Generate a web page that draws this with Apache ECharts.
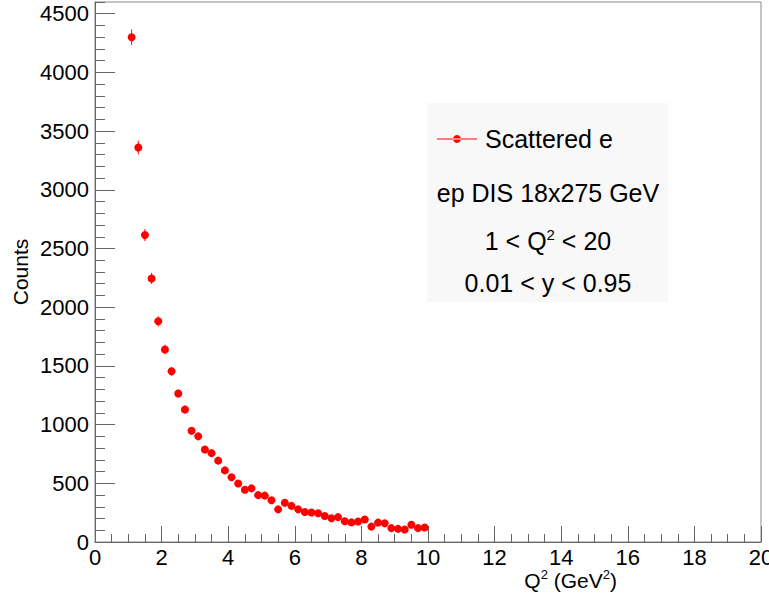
<!DOCTYPE html>
<html><head><meta charset="utf-8">
<script src="https://cdn.jsdelivr.net/npm/echarts@6/dist/echarts.min.js"></script>
<style>html,body{margin:0;padding:0;background:#fff}#c{width:769px;height:595px}</style>
</head><body><div id="c"></div>
<script>
// Bin centres of Q^2 (GeV^2), histogram bins of width 0.2
const binCenters = [1.1,1.3,1.5,1.7,1.9,2.1,2.3,2.5,2.7,2.9,
                    3.1,3.3,3.5,3.7,3.9,4.1,4.3,4.5,4.7,4.9,
                    5.1,5.3,5.5,5.7,5.9,6.1,6.3,6.5,6.7,6.9,
                    7.1,7.3,7.5,7.7,7.9,8.1,8.3,8.5,8.7,8.9,
                    9.1,9.3,9.5,9.7,9.9];
// Counts per bin
const counts = [4300,3360,2615,2245,1880,1640,1455,1265,1128,947,
                900,788,757,693,610,551,498,445,457,399,
                395,356,278,334,308,278,256,251,245,221,
                202,212,177,167,175,192,131,165,159,118,
                112,106,147,118,124];
const binHalfWidth = 0.1;
const seriesName = 'Scattered e';
const infoLines = ['ep DIS 18x275 GeV', '0.01 < y < 0.95'];
const xRange = [0, 20], xStep = 2;
const yRange = [0, 4600], yStep = 500, yMinorStep = 100;

const FONT = '"Liberation Sans", Arial, Helvetica, sans-serif';
const RED = '#ff0000';
const AX = '#666';

const chart = echarts.init(document.getElementById('c'), null, {renderer: 'svg'});
const pts = binCenters.map((x, i) => [x, counts[i]]);
const errs = binCenters.map((x, i) => [x, counts[i], Math.sqrt(counts[i])]);

chart.setOption({
  animation: false,
  backgroundColor: '#fff',
  grid: {left: 95, right: 8, top: 2, bottom: 53, outerBoundsMode: 'none', containLabel: false,
         show: true, borderColor: '#888', borderWidth: 1, backgroundColor: 'transparent'},
  xAxis: {
    type: 'value', min: xRange[0], max: xRange[1], interval: xStep,
    axisLine: {show: true, onZero: false, lineStyle: {color: AX, width: 1}},
    axisTick: {show: true, inside: true, length: 16, lineStyle: {color: AX}},
    minorTick: {show: true, splitNumber: 4, length: 8, lineStyle: {color: AX}},
    axisLabel: {fontSize: 22, color: '#000', fontFamily: FONT, margin: 4, showMaxLabel: true, hideOverlap: false,
                formatter: v => String(v)},
    splitLine: {show: false}
  },
  yAxis: [{
    type: 'value', min: yRange[0], max: yRange[1], interval: yStep, position: 'left',
    axisLine: {show: true, onZero: false, lineStyle: {color: AX, width: 1}},
    axisTick: {show: true, inside: true, length: 20, lineStyle: {color: AX}},
    axisLabel: {fontSize: 22, color: '#000', fontFamily: FONT, margin: 6, showMaxLabel: false,
                formatter: v => String(v)},
    splitLine: {show: false}
  }, {
    type: 'value', min: yRange[0], max: yRange[1], interval: yMinorStep, position: 'left',
    axisLine: {show: false},
    axisTick: {show: true, inside: true, length: 10, lineStyle: {color: AX}},
    axisLabel: {show: false},
    splitLine: {show: false}
  }],
  legend: {
    data: [{name: seriesName, icon: 'path://M0,3.5h40v1h-40z M20,0a4,4 0 1,0 0.001,0z'}],
    left: 432, top: 120, itemWidth: 40, itemHeight: 8,
    textStyle: {fontSize: 25, color: '#000', fontFamily: FONT, padding: [0, 0, 0, 3], lineHeight: 28},
    itemStyle: {color: RED}
  },
  graphic: [
    {type: 'rect', z: -10, shape: {x: 427, y: 103, width: 241, height: 199}, style: {fill: '#f8f8f8'}},
    {type: 'text', style: {text: infoLines[0], x: 548, y: 193, align: 'center', verticalAlign: 'middle', font: '25px ' + FONT, fill: '#000'}},
    {type: 'text', style: {
      text: '{n|1 < Q}{s|2}{n| < 20}', x: 548, y: 241, align: 'center', verticalAlign: 'middle',
      rich: {n: {fontSize: 25, fontFamily: FONT, fill: '#000', lineHeight: 28}, s: {fontSize: 15, fontFamily: FONT, fill: '#000', verticalAlign: 'top', lineHeight: 16}}
    }},
    {type: 'text', style: {text: infoLines[1], x: 548, y: 283, align: 'center', verticalAlign: 'middle', font: '25px ' + FONT, fill: '#000'}},
    {type: 'text', style: {
      text: '{n|Q}{s|2}{n| (GeV}{s|2}{n|)}', x: 617, y: 580, align: 'right', verticalAlign: 'middle',
      rich: {n: {fontSize: 21, fontFamily: FONT, fill: '#000', lineHeight: 24}, s: {fontSize: 13, fontFamily: FONT, fill: '#000', verticalAlign: 'top', lineHeight: 14}}
    }},
    {type: 'text', x: 20, y: 272, rotation: Math.PI / 2, style: {text: 'Counts', x: 0, y: 0, align: 'center', verticalAlign: 'middle', font: '21px ' + FONT, fill: '#000'}}
  ],
  series: [{
    name: 'errors', type: 'custom', yAxisIndex: 0, z: 2,
    data: errs,
    renderItem: function (params, api) {
      const x = api.value(0), y = api.value(1), e = api.value(2);
      const t = api.coord([x, y + e]), b = api.coord([x, y - e]);
      const l = api.coord([x - binHalfWidth, y]), r = api.coord([x + binHalfWidth, y]);
      return {type: 'group', children: [
        {type: 'line', shape: {x1: t[0], y1: t[1], x2: b[0], y2: b[1]}, style: {stroke: RED, lineWidth: 1}},
        {type: 'line', shape: {x1: l[0], y1: l[1], x2: r[0], y2: r[1]}, style: {stroke: RED, lineWidth: 1}}
      ]};
    }
  }, {
    name: seriesName, type: 'scatter', yAxisIndex: 0, z: 3,
    data: pts, symbol: 'circle', symbolSize: 8,
    itemStyle: {color: RED, opacity: 1}
  }]
});
</script></body></html>
